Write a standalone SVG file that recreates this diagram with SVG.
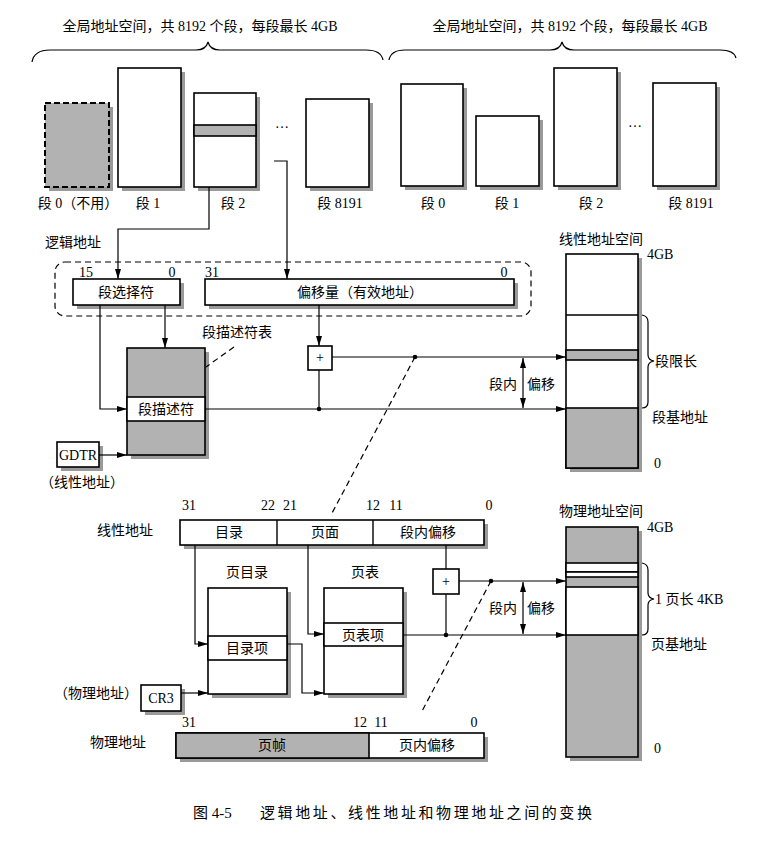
<svg xmlns="http://www.w3.org/2000/svg" width="767" height="842" viewBox="0 0 767 842">
<style>
.b{fill:#fff;stroke:#000;stroke-width:1.6}
.g{fill:#b2b2b2;stroke:#000;stroke-width:1.6}
.gf{fill:#b2b2b2;stroke:none}
.sh{fill:#9a9a9a}
.ln{stroke:#000;stroke-width:1.2;fill:none}
.da{stroke:#000;stroke-width:1.2;fill:none;stroke-dasharray:6,4}
.ar{stroke:#000;stroke-width:1.2;fill:none;marker-end:url(#ah)}
.t{font-family:"Liberation Serif","Noto Sans CJK SC",serif;font-size:14px;fill:#000}
.n{font-family:"Liberation Serif",serif;font-size:14px;fill:#000}
.m{text-anchor:middle}
</style>
<defs>
<marker id="ah" viewBox="0 0 10 6" refX="10" refY="3" markerWidth="10" markerHeight="6" markerUnits="userSpaceOnUse" orient="auto">
<path d="M0,0 L10,3 L0,6 Z" fill="#000"/>
</marker>
<marker id="ahs" viewBox="0 0 10 6" refX="0" refY="3" markerWidth="10" markerHeight="6" markerUnits="userSpaceOnUse" orient="auto">
<path d="M10,0 L0,3 L10,6 Z" fill="#000"/>
</marker>
</defs>
<rect width="767" height="842" fill="#fff"/>

<!-- top labels and braces -->
<g id="global-left">
<text class="t m" x="200" y="31">全局地址空间，共 8192 个段，每段最长 4GB</text>
<path class="ln" d="M32,62 Q34,50 50,50 L196,50 Q206,50 208,42 Q210,50 220,50 L366,50 Q381,50 383,60"/>
</g>
<g id="global-right">
<text class="t m" x="570" y="31">全局地址空间，共 8192 个段，每段最长 4GB</text>
<path class="ln" d="M389,60 Q391,50 405,50 L550,50 Q560,50 562,42 Q564,50 574,50 L720,50 Q734,50 736,58"/>
</g>

<!-- left segments -->
<g id="seg0">
<rect class="sh" x="49" y="107" width="64" height="84"/>
<rect x="45" y="103" width="64" height="84" fill="#b2b2b2" stroke="#000" stroke-width="2" stroke-dasharray="6,3"/>
<text class="t m" x="78" y="208">段 0（不用）</text>
</g>
<g id="seg1">
<rect class="sh" x="122" y="72" width="63" height="119"/>
<rect class="b" x="118" y="68" width="63" height="119"/>
<text class="t m" x="148" y="208">段 1</text>
</g>
<g id="seg2">
<rect class="sh" x="198" y="97" width="62" height="94"/>
<rect class="b" x="194" y="93" width="62" height="94"/>
<rect class="g" x="194" y="125" width="62" height="11"/>
<text class="t m" x="233" y="208">段 2</text>
</g>
<text class="n m" x="282" y="128">…</text>
<g id="seg8191">
<rect class="sh" x="310" y="103" width="63" height="88"/>
<rect class="b" x="306" y="99" width="63" height="88"/>
<text class="t m" x="340" y="208">段 8191</text>
</g>

<!-- right segments -->
<g id="rseg0">
<rect class="sh" x="405" y="88" width="62" height="102"/>
<rect class="b" x="401" y="84" width="62" height="102"/>
<text class="t m" x="433" y="208">段 0</text>
</g>
<g id="rseg1">
<rect class="sh" x="480" y="120" width="63" height="70"/>
<rect class="b" x="476" y="116" width="63" height="70"/>
<text class="t m" x="507" y="208">段 1</text>
</g>
<g id="rseg2">
<rect class="sh" x="558" y="72" width="63" height="118"/>
<rect class="b" x="554" y="68" width="63" height="118"/>
<text class="t m" x="591" y="208">段 2</text>
</g>
<text class="n m" x="635" y="127">…</text>
<g id="rseg8191">
<rect class="sh" x="657" y="87" width="63" height="103"/>
<rect class="b" x="653" y="83" width="63" height="103"/>
<text class="t m" x="691" y="208">段 8191</text>
</g>

<!-- logical address -->
<g id="logical">
<text class="t" x="45" y="247">逻辑地址</text>
<rect class="da" x="55" y="262" width="476" height="54" rx="10"/>
<text class="n m" x="86" y="277">15</text>
<text class="n m" x="172" y="277">0</text>
<text class="n m" x="212" y="277">31</text>
<text class="n m" x="504" y="277">0</text>
</g>
<g id="selector">
<rect class="sh" x="77" y="283" width="107" height="26"/>
<rect class="b" x="73" y="279" width="107" height="26"/>
<text class="t m" x="126" y="297">段选择符</text>
</g>
<g id="offset">
<rect class="sh" x="209" y="283" width="309" height="26"/>
<rect class="b" x="205" y="279" width="309" height="26"/>
<text class="t m" x="360" y="297">偏移量（有效地址）</text>
</g>

<!-- descriptor table -->
<g id="gdt">
<rect class="sh" x="131" y="352" width="78" height="107"/>
<rect class="g" x="127" y="348" width="78" height="107"/>
<rect class="b" x="127" y="397" width="78" height="24"/>
<text class="t m" x="166" y="414">段描述符</text>
<text class="t m" x="237" y="337">段描述符表</text>
</g>
<g id="gdtr">
<rect class="sh" x="61" y="446" width="42" height="25"/>
<rect class="b" x="57" y="442" width="42" height="25"/>
<text class="n m" x="78" y="459.5" textLength="38">GDTR</text>
<text class="t m" x="82" y="487">（线性地址）</text>
</g>
<g id="adder1">
<rect class="b" x="308" y="346" width="24" height="24"/>
<text class="n m" x="320" y="362">+</text>
</g>

<!-- linear address space -->
<g id="linear-space">
<text class="t m" x="601" y="244">线性地址空间</text>
<rect class="sh" x="570" y="258" width="72" height="214"/>
<rect class="b" x="566" y="254" width="72" height="214"/>
<rect class="g" x="566" y="408" width="72" height="60"/>
<line class="ln" x1="566" y1="315" x2="638" y2="315" style="stroke-width:1.6"/>
<rect class="g" x="566" y="350" width="72" height="10"/>
<text class="n" x="647" y="259">4GB</text>
<path class="ln" d="M642,315 Q648,316 648,322 L648,355 Q648,360 654,361 Q648,362 648,367 L648,402 Q648,408 642,408"/>
<text class="t" x="655" y="366">段限长</text>
<text class="t" x="652" y="422">段基地址</text>
<text class="n" x="654" y="468">0</text>
</g>

<!-- linear address (paging) -->
<g id="linear-addr">
<text class="t" x="97" y="535">线性地址</text>
<text class="n m" x="189" y="510">31</text>
<text class="n m" x="268" y="510">22</text>
<text class="n m" x="290" y="510">21</text>
<text class="n m" x="373" y="510">12</text>
<text class="n m" x="396" y="510">11</text>
<text class="n m" x="489" y="510">0</text>
<rect class="sh" x="184" y="524" width="304" height="25"/>
<rect class="b" x="180" y="520" width="304" height="25"/>
<line class="ln" x1="277" y1="520" x2="277" y2="545" style="stroke-width:1.4"/>
<line class="ln" x1="373" y1="520" x2="373" y2="545" style="stroke-width:1.4"/>
<text class="t m" x="229" y="537">目录</text>
<text class="t m" x="325" y="537">页面</text>
<text class="t m" x="428" y="537">段内偏移</text>
</g>
<g id="page-dir">
<text class="t m" x="247" y="577">页目录</text>
<rect class="sh" x="212" y="592" width="79" height="106"/>
<rect class="b" x="208" y="588" width="79" height="106"/>
<rect class="b" x="208" y="636" width="79" height="24"/>
<text class="t m" x="247" y="653">目录项</text>
</g>
<g id="page-table">
<text class="t m" x="365" y="577">页表</text>
<rect class="sh" x="328" y="592" width="79" height="106"/>
<rect class="b" x="324" y="588" width="79" height="106"/>
<rect class="b" x="324" y="623" width="79" height="23"/>
<text class="t m" x="363" y="640">页表项</text>
</g>
<g id="cr3">
<rect class="sh" x="145" y="689" width="40" height="26"/>
<rect class="b" x="141" y="685" width="40" height="26"/>
<text class="n m" x="161" y="703">CR3</text>
<text class="t m" x="96" y="698">（物理地址）</text>
</g>
<g id="adder2">
<rect class="b" x="433" y="569" width="26" height="25"/>
<text class="n m" x="446" y="586">+</text>
</g>

<!-- physical address space -->
<g id="phys-space">
<text class="t m" x="601" y="516">物理地址空间</text>
<rect class="sh" x="570" y="531" width="72" height="230"/>
<rect class="g" x="566" y="527" width="72" height="230"/>
<rect class="b" x="566" y="563" width="72" height="9"/>
<rect class="b" x="566" y="572" width="72" height="5"/>
<rect class="b" x="566" y="587" width="72" height="48"/>
<rect class="gf" x="567" y="578" width="70" height="8"/>
<text class="n" x="647" y="532">4GB</text>
<path class="ln" d="M642,563 Q648,564 648,570 L648,593 Q648,598 654,599 Q648,600 648,605 L648,629 Q648,635 642,635"/>
<text class="t" x="655" y="604">1 页长 4KB</text>
<text class="t" x="651" y="649">页基地址</text>
<text class="n" x="654" y="753">0</text>
</g>

<!-- physical address -->
<g id="phys-addr">
<text class="t" x="90" y="747">物理地址</text>
<text class="n m" x="189" y="727">31</text>
<text class="n m" x="360" y="727">12</text>
<text class="n m" x="381" y="727">11</text>
<text class="n m" x="474" y="727">0</text>
<rect class="sh" x="180" y="737" width="308" height="25"/>
<rect class="b" x="176" y="733" width="308" height="25"/>
<rect class="g" x="176" y="733" width="193" height="25"/>
<text class="t m" x="272" y="750">页帧</text>
<text class="t m" x="427" y="750">页内偏移</text>
</g>

<!-- connectors -->
<g id="connectors">
<polyline class="ar" points="209,187 209,229 118,229 118,279"/>
<polyline class="ar" points="274,161 287,161 287,279"/>
<polyline class="ar" points="100,305 100,409 127,409"/>
<line class="ar" x1="165" y1="305" x2="165" y2="348"/>
<line class="da" x1="234" y1="347" x2="206" y2="367"/>
<line class="ar" x1="99" y1="455" x2="127" y2="455"/>
<line class="ar" x1="319" y1="305" x2="319" y2="346"/>
<line class="ln" x1="319" y1="370" x2="319" y2="409"/>
<line class="ar" x1="332" y1="357" x2="566" y2="357"/>
<line class="ar" x1="205" y1="409" x2="566" y2="409"/>
<circle cx="319" cy="409" r="2.3"/>
<circle cx="415" cy="357" r="2.3"/>
<line class="da" x1="415" y1="357" x2="331" y2="515"/>
<line class="ln" x1="523" y1="358" x2="523" y2="408" style="marker-start:url(#ahs);marker-end:url(#ah)"/>
<text class="t m" x="503" y="389">段内</text>
<text class="t m" x="541" y="389">偏移</text>

<polyline class="ar" points="195,545 195,644 208,644"/>
<polyline class="ar" points="308,545 308,634 324,634"/>
<polyline class="ar" points="287,644 302,644 302,693 324,693"/>
<line class="ar" x1="181" y1="693" x2="208" y2="693"/>
<line class="ln" x1="446" y1="545" x2="446" y2="569"/>
<line class="ln" x1="446" y1="594" x2="446" y2="635"/>
<line class="ar" x1="403" y1="635" x2="566" y2="635"/>
<line class="ar" x1="459" y1="581" x2="566" y2="581"/>
<circle cx="446" cy="635" r="2.3"/>
<circle cx="491" cy="581" r="2.3"/>
<line class="da" x1="491" y1="581" x2="421" y2="713"/>
<line class="ln" x1="523" y1="582" x2="523" y2="634" style="marker-start:url(#ahs);marker-end:url(#ah)"/>
<text class="t m" x="503" y="613">段内</text>
<text class="t m" x="541" y="613">偏移</text>
</g>

<!-- caption -->
<text class="t" x="193" y="818" style="font-size:15px">图 4-5</text>
<text class="t" x="260" y="818" style="font-size:15px" textLength="332">逻辑地址、线性地址和物理地址之间的变换</text>
</svg>
